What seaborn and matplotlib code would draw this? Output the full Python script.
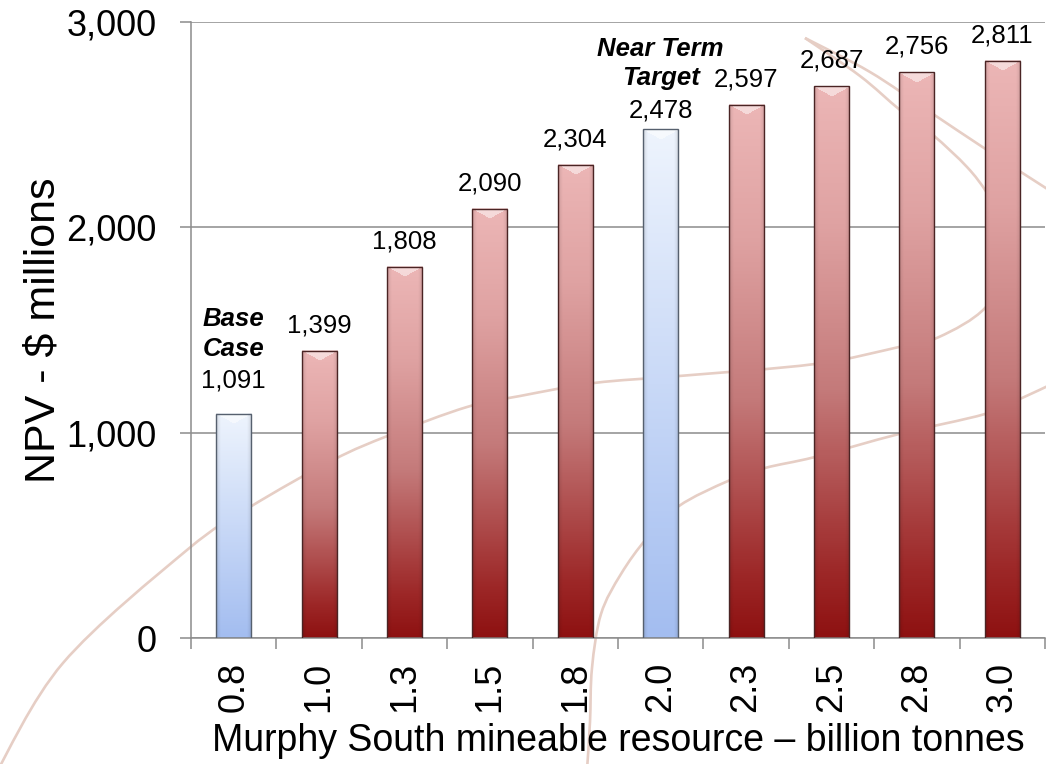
import numpy as np
import pandas as pd
import matplotlib
matplotlib.use("Agg")
import matplotlib.pyplot as plt
import seaborn as sns
from matplotlib.colors import LinearSegmentedColormap
from matplotlib.path import Path
from matplotlib.patches import PathPatch
from matplotlib.ticker import FuncFormatter

# ---------------- data ----------------
resource = ["0.8", "1.0", "1.3", "1.5", "1.8", "2.0", "2.3", "2.5", "2.8", "3.0"]
npv = [1091, 1399, 1808, 2090, 2304, 2478, 2597, 2687, 2756, 2811]
kind = ["highlight", "scenario", "scenario", "scenario", "scenario",
        "highlight", "scenario", "scenario", "scenario", "scenario"]
callouts = {"0.8": ["Base", "Case"], "2.0": ["Near Term", "Target"]}
y_ticks = [0, 1000, 2000, 3000]
x_title = "Murphy South mineable resource \u2013 billion tonnes"
y_title = "NPV - $ millions"

# ---------------- style ----------------
sns.set_style("white")
plt.rcParams['font.family'] = ['Liberation Sans', 'DejaVu Sans']
plt.rcParams['text.color'] = 'black'
plt.rcParams['axes.labelcolor'] = 'black'
plt.rcParams['xtick.labelcolor'] = 'black'
plt.rcParams['ytick.labelcolor'] = 'black'

W, H = 1046, 764
fig = plt.figure(figsize=(W / 100, H / 100), dpi=100)
fig.patch.set_facecolor("white")
ax = fig.add_axes([191 / W, (H - 638) / H, (1045 - 191) / W, (638 - 22) / H])
ax.set_facecolor("none")

# ---------------- decorative background swooshes ----------------
def smooth_path(pts):
    P = np.array(pts, float)
    P[:, 0] = P[:, 0] / W
    P[:, 1] = 1 - P[:, 1] / H
    ext = np.vstack([P[0], P, P[-1]])
    verts = [P[0]]
    codes = [Path.MOVETO]
    for i in range(1, len(ext) - 2):
        p0, p1, p2, p3 = ext[i - 1], ext[i], ext[i + 1], ext[i + 2]
        verts += [p1 + (p2 - p0) / 6, p2 - (p3 - p1) / 6, p2]
        codes += [Path.CURVE4] * 3
    return Path(verts, codes)

swooshes = [
    [(-5, 775), (63, 663), (187, 550), (250, 507), (333, 460), (390, 435), (467, 407),
     (520, 396), (594, 383), (679, 376), (815, 364), (899, 347), (939, 337), (985, 308),
     (1006, 265), (1004, 225), (987, 193), (967, 167), (933, 135), (900, 110), (860, 76), (805, 38)],
    [(805, 38), (870, 72), (930, 112), (987, 150), (1052, 192)],
    [(1052, 384), (1022, 398), (985, 414), (899, 434), (815, 457), (765, 468), (728, 481),
     (679, 506), (647, 538), (621, 574), (601, 614), (592, 668), (590, 722), (587, 770)],
]
for pts in swooshes:
    fig.add_artist(PathPatch(smooth_path(pts), transform=fig.transFigure, fill=False,
                             edgecolor="#e6cec5", lw=1.9, zorder=-1))

# ---------------- bars ----------------
df = pd.DataFrame({"resource": resource, "npv": npv, "kind": kind})
sns.barplot(data=df, x="resource", y="npv", hue="kind", order=resource,
            palette={"highlight": "#c9d9f7", "scenario": "#c47a7a"},
            width=0.41, dodge=False, legend=False, saturation=1, ax=ax)

red_cmap = LinearSegmentedColormap.from_list(
    "r", [(0, "#8e1111"), (0.12, "#9d2828"), (0.45, "#c47a7a"), (0.75, "#dfa2a2"), (1, "#ecb6b6")])
blue_cmap = LinearSegmentedColormap.from_list(
    "b", [(0, "#a3bdf0"), (0.5, "#c9d9f7"), (1, "#eef4fd")])

px_per_unit = 616 / 3000
for p in list(ax.patches):
    x0, w, h = p.get_x(), p.get_width(), p.get_height()
    if h <= 0:
        continue
    idx = int(round(x0 + w / 2))
    is_hl = kind[idx] == "highlight"
    cmap = blue_cmap if is_hl else red_cmap
    hp = max(int(round(h * px_per_unit)), 4)
    wp = 36
    t = np.linspace(1, 0, hp)
    img = cmap(t)[:, None, :3] * np.ones((1, wp, 1))
    s = (np.arange(wp) + 0.5) / wp
    edge = np.clip(np.minimum(s, 1 - s) / 0.14, 0, 1)
    shade = 0.8 + 0.2 * np.sqrt(edge)
    img = img * shade[None, :, None]
    rows = np.arange(hp)[:, None]
    tri = rows < 10 * (1 - np.abs(2 * s - 1))[None, :]
    img[tri] = img[tri] * 0.5 + 0.5
    ax.imshow(np.clip(img, 0, 1), extent=(x0, x0 + w, 0, h), origin="upper",
              aspect="auto", interpolation="bilinear", zorder=2)
    p.set_facecolor("none")
    p.set_edgecolor("#56606e" if is_hl else "#4a2424")
    p.set_linewidth(1.0)
    p.set_zorder(3)

ax.set_xlim(-0.5, len(resource) - 0.5)
ax.set_ylim(0, 3000)

# ---------------- axes styling ----------------
grey = "#8c8c8c"
ax.yaxis.grid(True, color=grey, lw=1.1)
ax.xaxis.grid(False)
ax.set_axisbelow(True)
for side in ["top", "right"]:
    ax.spines[side].set_visible(False)
for side in ["left", "bottom"]:
    ax.spines[side].set_color(grey)
    ax.spines[side].set_linewidth(1.1)

ax.set_yticks(y_ticks)
ax.yaxis.set_major_formatter(FuncFormatter(lambda v, pos: f"{int(v):,}"))
ax.tick_params(axis="y", which="major", left=True, length=8, width=1.1, color=grey,
               labelcolor="black", pad=16.5, labelsize=26, direction="out")
ax.set_xticks(range(len(resource)))
ax.set_xticklabels(resource, rotation=90)
ax.tick_params(axis="x", which="major", bottom=True, length=0, pad=17, labelsize=26,
               labelcolor="black")
ax.set_xticks(np.arange(-0.5, len(resource), 1), minor=True)
ax.tick_params(axis="x", which="minor", bottom=True, length=8, width=1.1, color=grey,
               direction="out")

ax.set_xlabel(x_title, fontsize=27, color="black")
ax.set_ylabel(y_title, fontsize=31, color="black")
ax.xaxis.set_label_coords(0.5, -0.138)
ax.yaxis.set_label_coords(-0.149, 0.5)

# ---------------- value labels ----------------
px2pt = 0.72
for i, (r, v) in enumerate(zip(resource, npv)):
    off = 18.5
    if r == "0.8":
        off = 26
    elif r == "2.0":
        off = 12
    ax.annotate(f"{v:,}", xy=(i, v), xytext=(0, off * px2pt), textcoords="offset points",
                ha="center", va="baseline", fontsize=18.5, color="black")
    if r in callouts:
        lines = callouts[r]
        for k, line in enumerate(reversed(lines)):
            ax.annotate(line, xy=(i, v), xytext=(0, (off + 32 + 29.5 * k) * px2pt),
                        textcoords="offset points", ha="center", va="baseline",
                        fontsize=18.5, fontweight="bold", fontstyle="italic", color="black")

fig.savefig("out.png", dpi=100)
